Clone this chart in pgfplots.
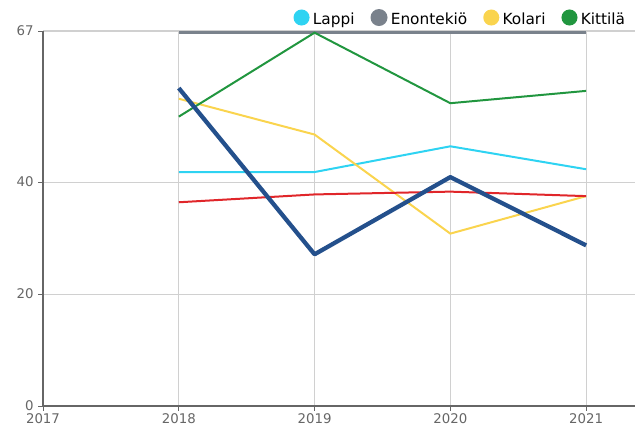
\documentclass[border=0pt]{standalone}
\usepackage{pgfplots}
\pgfplotsset{compat=1.18}
\usepackage{fontspec}
\setmainfont{DejaVu Sans}
\definecolor{cLappi}{HTML}{2ED3F2}
\definecolor{cEnon}{HTML}{7A828C}
\definecolor{cKolari}{HTML}{FAD44E}
\definecolor{cKitt}{HTML}{21963F}
\definecolor{cRed}{HTML}{E0262A}
\definecolor{cBlue}{HTML}{24508C}
\definecolor{cTick}{HTML}{666666}
\definecolor{cGrid}{HTML}{D0D0D0}
\begin{document}
\begin{tikzpicture}
\begin{axis}[
  name=ax, at={(0,0)}, anchor=south west,
  scale only axis, width=444pt, height=281.25pt,
  xmin=2017, xmax=2021.36, ymin=0, ymax=67,
  xtick={2017,2018,2019,2020,2021}, ytick={0,20,40,67},
  axis x line=bottom, axis y line=left,
  axis line style={-, draw=cTick, line width=0.9pt},
  tick align=outside, major tick length=3.5pt,
  tick style={draw=cTick, line width=0.7pt},
  xmajorgrids, ymajorgrids,
  grid style={draw=cGrid, line width=0.8pt},
  /pgf/number format/assume math mode=true,
  /pgf/number format/1000 sep={},
  ticklabel style={font=\fontsize{10}{12}\selectfont, text=cTick},
  xticklabel style={yshift=1pt},
  clip=false,
  legend columns=4,
  legend cell align=left,
  legend style={draw=none, fill=none, at={(0.995,1)}, anchor=south east, yshift=-0.5pt,
    font=\fontsize{11.5}{13}\selectfont,
    /tikz/every even column/.append style={column sep=10pt},
    /tikz/every odd column/.append style={column sep=0.5pt}},
  legend image code/.code={\fill[#1] (0.25em,1.3pt) circle (5.25pt);},
]
\addplot[cLappi, line width=1.5pt] coordinates {(2018,41.8)(2019,41.8)(2020,46.4)(2021,42.3)};
\addlegendentry{Lappi}
\addplot[cEnon, line width=2.2pt] coordinates {(2018,66.8)(2019,66.8)(2020,66.8)(2021,66.8)};
\addlegendentry{Enontekiö}
\addplot[cKolari, line width=1.5pt] coordinates {(2018,54.9)(2019,48.5)(2020,30.8)(2021,37.5)};
\addlegendentry{Kolari}
\addplot[cKitt, line width=1.5pt] coordinates {(2018,51.7)(2019,66.7)(2020,54.1)(2021,56.3)};
\addlegendentry{Kittilä}
\addplot[cRed, line width=1.5pt, forget plot] coordinates {(2018,36.4)(2019,37.8)(2020,38.3)(2021,37.5)};
\addplot[cBlue, line width=3.2pt, line join=round, forget plot] coordinates {(2018,56.8)(2019,27.1)(2020,40.9)(2021,28.7)};
\end{axis}
\pgfresetboundingbox
\path (-32.25pt,-20.25pt) rectangle (444pt,304.5pt);
\end{tikzpicture}
\end{document}
